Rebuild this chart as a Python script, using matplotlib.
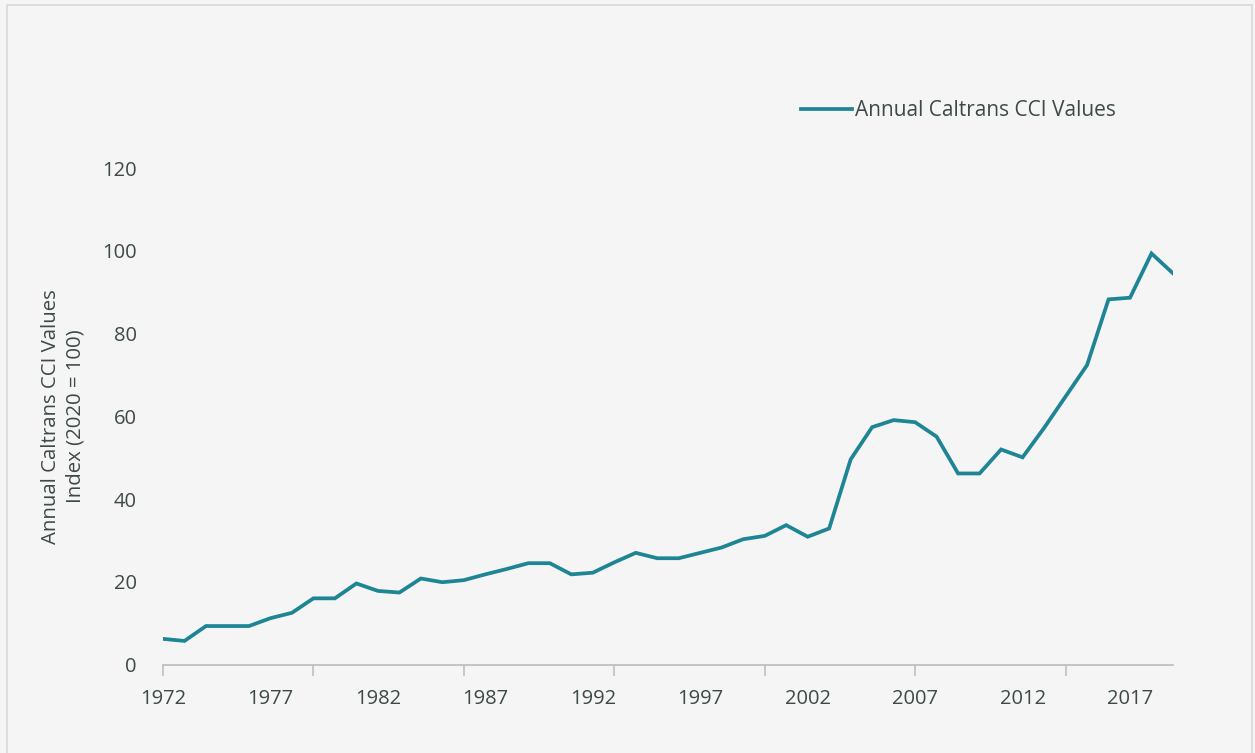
import matplotlib.pyplot as plt
from matplotlib.patches import Rectangle

years = list(range(1972, 2020))
cci = [6.2, 5.7, 9.3, 9.3, 9.3, 11.2, 12.5, 16.0, 16.0, 19.6,
       17.8, 17.4, 20.8, 19.9, 20.4, 21.8, 23.1, 24.5, 24.5, 21.8,
       22.2, 24.7, 27.0, 25.7, 25.7, 27.0, 28.3, 30.3, 31.1, 33.7,
       30.9, 32.9, 49.6, 57.4, 59.1, 58.6, 55.1, 46.2, 46.2, 52.0,
       50.1, 57.2, 64.8, 72.4, 88.3, 88.7, 99.4, 94.6]
label_years = list(range(1972, 2020, 5))
mark_years = list(range(1972, 2020, 7))
y_ticks = [0, 20, 40, 60, 80, 100, 120]

bg = '#f5f5f5'
teal = '#1e8595'
txt = '#3d4a48'
axis_gray = '#bfbfbf'

plt.rcParams['font.family'] = ['Open Sans', 'DejaVu Sans']

fig = plt.figure(figsize=(12.55, 7.53), dpi=100, facecolor=bg)
W, H = 1255, 753
ax = fig.add_axes([163 / W, 1 - 664.5 / H, (1173 - 163) / W, (664.5 - 168.3) / H])
ax.set_facecolor(bg)

ax.plot(years, cci, color=teal, linewidth=2.7, solid_joinstyle='miter',
        label='Annual Caltrans CCI Values')

ax.set_xlim(1972, 2019)
ax.set_ylim(0, 120)

for s in ['top', 'right', 'left']:
    ax.spines[s].set_visible(False)
ax.spines['bottom'].set_color(axis_gray)
ax.spines['bottom'].set_linewidth(1.3)

ax.xaxis.remove_overlapping_locs = False
ax.set_xticks(mark_years)
ax.set_xticklabels([])
ax.tick_params(axis='x', which='major', length=8, width=1.2, color=axis_gray)
ax.set_xticks(label_years, minor=True)
ax.set_xticklabels([str(y) for y in label_years], minor=True)
ax.tick_params(axis='x', which='minor', length=0, pad=18, labelsize=14.5, labelcolor=txt)

ax.set_yticks(y_ticks)
ax.tick_params(axis='y', length=0, pad=19, labelsize=14.5, labelcolor=txt)

ax.set_ylabel('Annual Caltrans CCI Values\nIndex (2020 = 100)', fontsize=14.7,
              color=txt, linespacing=1.3)
ax.yaxis.set_label_coords(-(163 - 86) / (1173 - 163), 0.5)

leg = ax.legend(loc='center left', bbox_to_anchor=(801 / W, 1 - 111 / H),
                bbox_transform=fig.transFigure, frameon=False, fontsize=15,
                handlelength=2.45, handletextpad=0.15,
                borderaxespad=0, borderpad=0)
for t in leg.get_texts():
    t.set_color(txt)

fig.patches.append(Rectangle((7 / W, -0.01), (1252 - 7) / W, 1 - 5 / H + 0.01,
                             transform=fig.transFigure, fill=False,
                             edgecolor='#d9d9d9', linewidth=1.2))

fig.savefig('out.png', dpi=100, facecolor=bg)
